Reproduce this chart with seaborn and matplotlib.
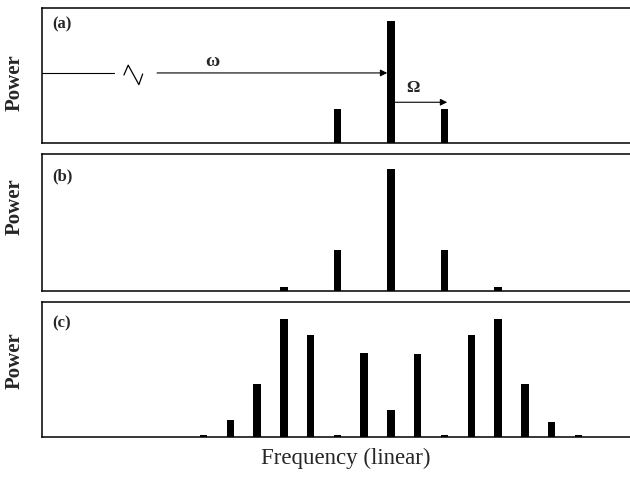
import matplotlib
matplotlib.use("Agg")
import matplotlib.pyplot as plt
import seaborn as sns
import pandas as pd

# ---- data (frequency offsets in units of the modulation frequency Omega) ----
pos_a = [-1, 0, 1]
pow_a = [0.28, 1.0, 0.28]

pos_b = [-2, -1, 0, 1, 2]
pow_b = [0.035, 0.34, 1.0, 0.34, 0.035]

pos_c = [-3.5, -3.0, -2.5, -2.0, -1.5, -1.0, -0.5, 0.0, 0.5, 1.0, 1.5, 2.0, 2.5, 3.0, 3.5]
pow_c = [0.02, 0.14, 0.45, 1.0, 0.86, 0.02, 0.71, 0.225, 0.70, 0.02, 0.86, 1.0, 0.445, 0.13, 0.015]

panel_labels = ["(a)", "(b)", "(c)"]
ylabel = "Power"
xlabel = "Frequency (linear)"

sns.set_style("white")
plt.rcParams['font.family'] = ['Liberation Serif', 'DejaVu Serif']

W, H = 630, 478
fig = plt.figure(figsize=(W / 100, H / 100), dpi=100)

def px_axes(left, top, right, bottom):
    return fig.add_axes([left / W, 1 - bottom / H, (right - left) / W, (bottom - top) / H])

ax_a = px_axes(41.5, 8, 650, 143)
ax_b = px_axes(41.5, 154, 650, 291)
ax_c = px_axes(41.5, 302, 650, 437)

XL = (-6.53, 4.84)
specs = [
    (ax_a, pos_a, pow_a, 0.14, 1.11, 0.875, 82.5),
    (ax_b, pos_b, pow_b, 0.14, 1.126, 0.835, 206.7),
    (ax_c, pos_c, pow_c, 0.28, 1.14, 0.845, 361),
]

for i, (ax, pos, pw, w, ytop, laby, ylab_px) in enumerate(specs):
    df = pd.DataFrame({"freq": pos, "power": pw})
    sns.barplot(data=df, x="freq", y="power", native_scale=True, width=w,
                color="black", saturation=1, linewidth=0, errorbar=None, ax=ax)
    ax.set_xlim(*XL)
    ax.set_ylim(0, ytop)
    ax.set_xticks([])
    ax.set_yticks([])
    ax.set_xlabel("")
    ax.set_ylabel("")
    for s in ["left", "top", "bottom"]:
        ax.spines[s].set_visible(True)
        ax.spines[s].set_color("black")
        ax.spines[s].set_linewidth(1.1)
    ax.spines["right"].set_visible(False)
    ax.text(0.017, laby, panel_labels[i], transform=ax.transAxes,
            fontsize=12, fontweight="bold", ha="left", va="center")
    fig.text(15 / W, 1 - ylab_px / H, ylabel, rotation=90, fontsize=15,
             fontweight="bold", ha="center", va="center")

# ---- annotations in panel (a) ----
yl = 0.576
ax_a.plot([XL[0], -5.18], [yl, yl], color="black", lw=0.8, clip_on=False)
ax_a.plot([-4.99, -4.91, -4.71, -4.64], [0.559, 0.640, 0.480, 0.567], color="black", lw=0.9)
ax_a.annotate("", xy=(-0.07, yl), xytext=(-4.37, yl),
              arrowprops=dict(arrowstyle="-|>", color="black", lw=0.8,
                              mutation_scale=10, shrinkA=0, shrinkB=0))
ax_a.text(-3.33, 0.666, "ω", fontsize=14, fontweight="bold", ha="center", va="center")
ax_a.annotate("", xy=(1.05, 0.335), xytext=(0.07, 0.335),
              arrowprops=dict(arrowstyle="-|>", color="black", lw=0.8,
                              mutation_scale=10, shrinkA=0, shrinkB=0))
ax_a.text(0.41, 0.452, "Ω", fontsize=12, fontweight="bold", ha="center", va="center")

ax_c.set_xlabel(xlabel, fontsize=16.5, labelpad=8)

fig.savefig("out.png", dpi=100)
